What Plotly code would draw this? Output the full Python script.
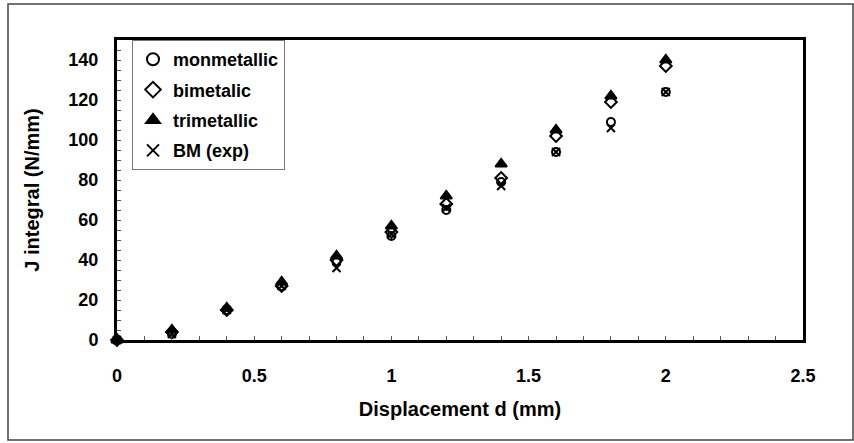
import plotly.graph_objects as go

# Displacement steps (mm)
displacement = [0, 0.2, 0.4, 0.6, 0.8, 1.0, 1.2, 1.4, 1.6, 1.8, 2.0]

# J integral (N/mm) for each model and the experimental values
j_mono = [0, 3, 15, 27, 39, 52, 65, 79, 94, 109, 124]
j_bi = [0, 4, 15, 27, 40, 54, 68, 81, 102, 119, 137]
j_tri = [0, 5, 16, 29, 42, 57, 72, 88, 105, 122, 140]
j_exp = [0, 3, 15, 27, 36, 53, 66, 77, 94, 106, 124]

series_names = ["monmetallic", "bimetalic", "trimetallic", "BM (exp)"]

FONT = "Arial, 'Liberation Sans', sans-serif"

fig = go.Figure()
styles = [
    (j_mono, "circle-open", 8),
    (j_bi, "diamond-open", 9),
    (j_tri, "triangle-up", 10),
    (j_exp, "x-thin-open", 8),
]
for i, (name, (vals, sym, size)) in enumerate(zip(series_names, styles)):
    fig.add_trace(go.Scatter(
        x=displacement, y=vals, mode="markers", name=name,
        legendgroup=f"g{i}",
        marker=dict(symbol=sym, size=size, color="black",
                    line=dict(color="black", width=2)),
        cliponaxis=False,
    ))

W, H = 854, 443
ml, mr, mt, mb = 117, 51, 40, 103
pw, ph = W - ml - mr, H - mt - mb

def px_to_paper_x(px):
    return (px - ml) / pw

def px_to_paper_y(py):
    return (H - mb - py) / ph

fig.update_layout(
    width=W, height=H,
    margin=dict(l=ml, r=mr, t=mt, b=mb),
    paper_bgcolor="white", plot_bgcolor="white",
    font=dict(family=FONT, color="black"),
    showlegend=True,
    legend=dict(
        x=px_to_paper_x(132), y=1.0, xanchor="left", yanchor="top",
        bgcolor="white", bordercolor="#777", borderwidth=1,
        font=dict(size=18, family=FONT, color="black", weight="bold"),
        itemsizing="constant", itemwidth=30, tracegroupgap=4,
    ),
    xaxis=dict(
        range=[0, 2.5], dtick=0.5, tickformat="~g",
        showgrid=False, zeroline=False,
        showline=True, linecolor="black", linewidth=3, mirror=True,
        ticks="inside", ticklen=4, tickcolor="#555",
        minor=dict(ticks="inside", dtick=0.1, ticklen=4, tickcolor="#555"),
        tickfont=dict(size=18, family=FONT, weight="bold"),
        ticklabelstandoff=17,
        title=dict(text="<b>Displacement d (mm)</b>", font=dict(size=20), standoff=18),
    ),
    yaxis=dict(
        range=[0, 150], tickvals=[0, 20, 40, 60, 80, 100, 120, 140],
        showgrid=False, zeroline=False,
        showline=True, linecolor="black", linewidth=3, mirror=True,
        ticks="inside", ticklen=4, tickcolor="#555",
        minor=dict(ticks="inside", dtick=5, ticklen=4, tickcolor="#555"),
        tickfont=dict(size=18, family=FONT, weight="bold"),
        ticklabelstandoff=12,
        title=dict(text="<b>J integral (N/mm)</b>", font=dict(size=20), standoff=24),
    ),
    shapes=[dict(
        type="rect", xref="paper", yref="paper", layer="below",
        x0=px_to_paper_x(8), x1=px_to_paper_x(853),
        y0=px_to_paper_y(440), y1=px_to_paper_y(4),
        line=dict(color="#444", width=1.5), fillcolor="rgba(0,0,0,0)",
    )],
)

fig.write_html("out.html")
